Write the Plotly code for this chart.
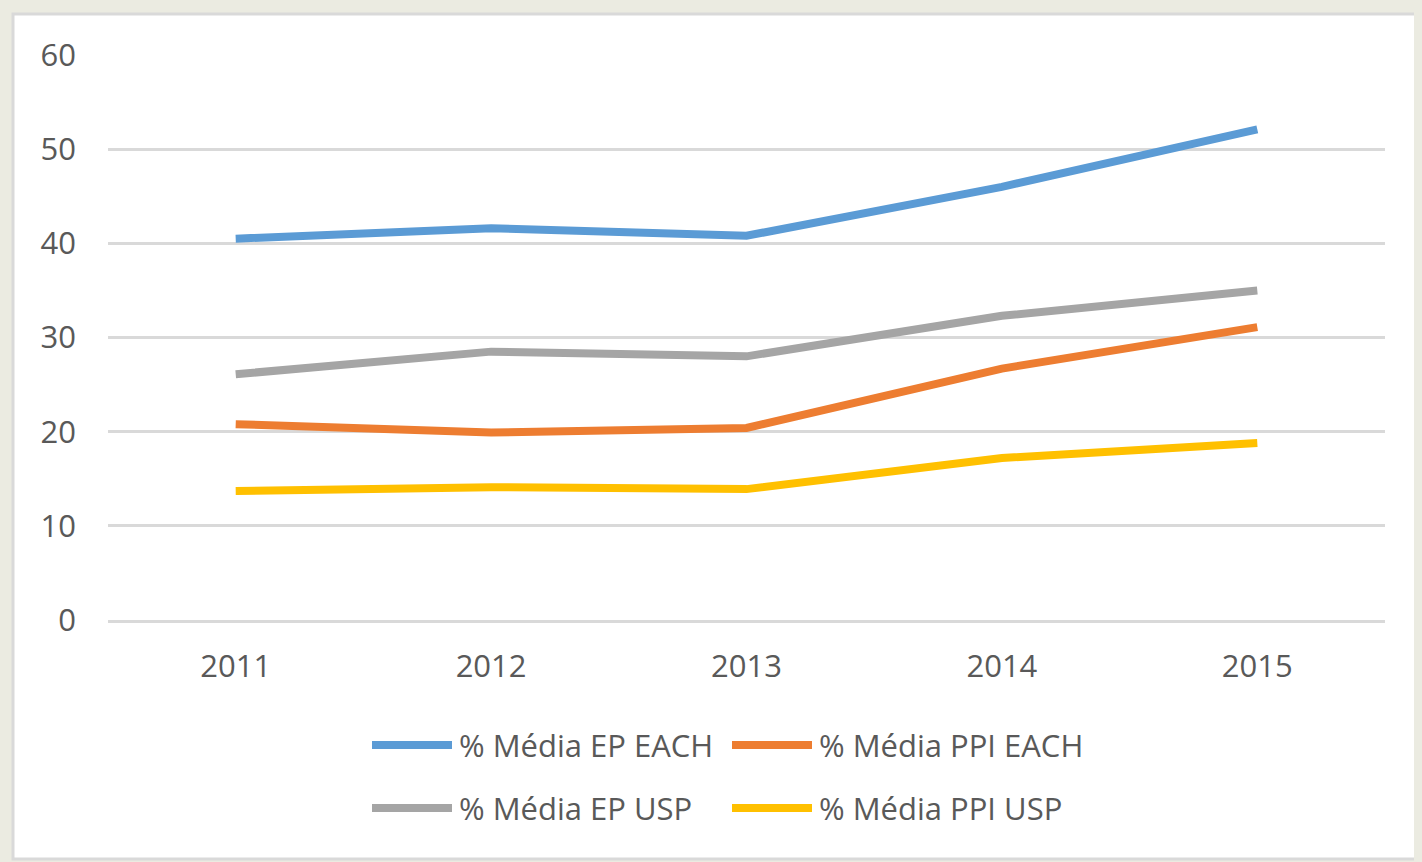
import plotly.graph_objects as go

years = ["2011", "2012", "2013", "2014", "2015"]
ep_each = [40.5, 41.6, 40.8, 46.0, 52.1]
ppi_each = [20.8, 19.9, 20.4, 26.7, 31.1]
ep_usp = [26.1, 28.5, 28.0, 32.3, 35.0]
ppi_usp = [13.7, 14.1, 13.9, 17.2, 18.8]

names = ["% Média EP EACH", "% Média PPI EACH", "% Média EP USP", "% Média PPI USP"]
values = [ep_each, ppi_each, ep_usp, ppi_usp]
colors = ["#5B9BD5", "#ED7D31", "#A5A5A5", "#FFC000"]

BG = "#EBEBE1"
TXT = "#595959"
GRID = "#D9D9D9"
FONT = "Open Sans, Liberation Sans, sans-serif"

fig = go.Figure()
for name, vals, col in zip(names, values, colors):
    fig.add_trace(go.Scatter(x=years, y=vals, name=name, mode="lines",
                             line=dict(color=col, width=8), showlegend=False))

# page body has an 8px margin, so the figure is 8px smaller
W, H = 1414, 854
L, R, T, B = 100, 37, 47, 242
pw, ph = W - L - R, H - T - B


def px_x(p):
    return (p - L) / pw


def px_y(p):
    return (H - B - p) / ph


# white chart area with light grey border
fig.add_shape(type="rect", xref="paper", yref="paper",
              x0=px_x(5), x1=px_x(1430), y0=px_y(851), y1=px_y(6),
              line=dict(color=GRID, width=3), fillcolor="white", layer="below")

# legend (2 x 2 grid) drawn as line samples + text
leg_cols = [364, 724]
leg_rows = [737, 800]
for i, (name, col) in enumerate(zip(names, colors)):
    cx = leg_cols[i % 2]
    cy = leg_rows[i // 2]
    fig.add_shape(type="line", xref="paper", yref="paper",
                  x0=px_x(cx), x1=px_x(cx + 80), y0=px_y(cy), y1=px_y(cy),
                  line=dict(color=col, width=8))
    fig.add_annotation(xref="paper", yref="paper", x=px_x(cx + 85), y=px_y(cy),
                       text=name, showarrow=False, xanchor="left", yanchor="middle",
                       font=dict(family=FONT, size=31, color=TXT))

fig.update_layout(
    width=W, height=H,
    margin=dict(l=L, r=R, t=T, b=B, autoexpand=False),
    paper_bgcolor=BG,
    plot_bgcolor="rgba(0,0,0,0)",
    font=dict(family=FONT, size=31, color=TXT),
    showlegend=False,
    xaxis=dict(type="category", range=[-0.5, 4.5], showgrid=False, zeroline=False,
               showline=True, linecolor=GRID, linewidth=3,
               ticks="", ticklabelstandoff=17, tickfont=dict(size=31)),
    yaxis=dict(range=[0, 60], dtick=10, showgrid=True, gridcolor=GRID, gridwidth=3,
               zeroline=False, showline=False, ticks="", ticklabelstandoff=31,
               tickfont=dict(size=31)),
)

fig.write_html("out.html",
               post_script="document.body.style.backgroundColor='" + BG + "';")
